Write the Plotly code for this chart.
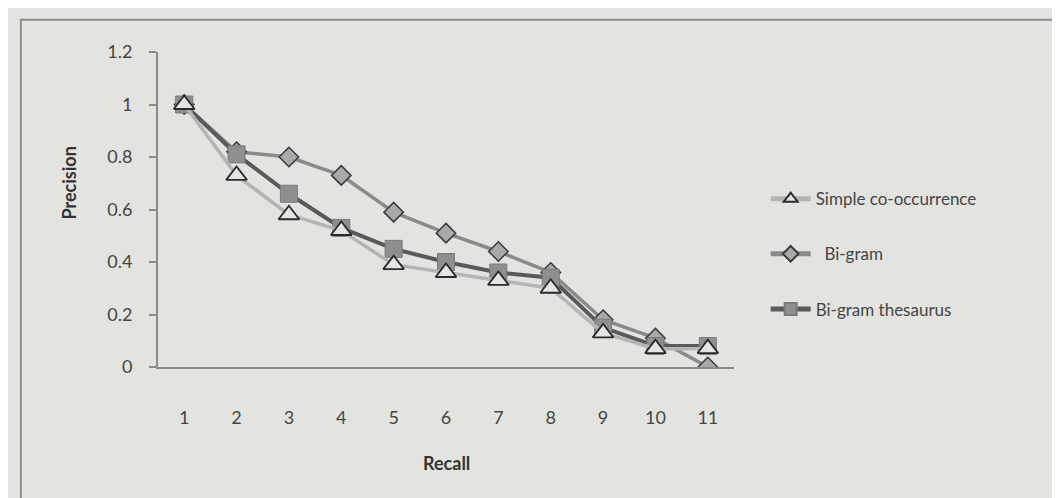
import plotly.graph_objects as go

recall = [1, 2, 3, 4, 5, 6, 7, 8, 9, 10, 11]
simple_cooc = [1.0, 0.73, 0.58, 0.52, 0.39, 0.36, 0.33, 0.30, 0.13, 0.07, 0.07]
bigram = [1.0, 0.82, 0.80, 0.73, 0.59, 0.51, 0.44, 0.36, 0.18, 0.11, 0.0]
bigram_thes = [1.0, 0.81, 0.66, 0.53, 0.45, 0.40, 0.36, 0.34, 0.15, 0.08, 0.08]
y_ticks = [0, 0.2, 0.4, 0.6, 0.8, 1, 1.2]
y_labels = ["0", "0.2", "0.4", "0.6", "0.8", "1", "1.2"]

FONT = "Lato, 'Open Sans', sans-serif"

fig = go.Figure()

fig.add_trace(go.Scatter(
    x=recall, y=bigram, name="  Bi-gram", mode="lines+markers",
    line=dict(color="#8a8a8a", width=3.5),
    marker=dict(symbol="diamond", size=15, color="#a9a9a9",
                line=dict(color="#3a3a3a", width=1.5)),
    legendrank=2, legendgroup="b"))
fig.add_trace(go.Scatter(
    x=recall, y=bigram_thes, name="Bi-gram thesaurus", mode="lines+markers",
    line=dict(color="#5a5a5a", width=4),
    marker=dict(symbol="square", size=17, color="#8f8f8f",
                line=dict(color="#7a7a7a", width=1)),
    legendrank=3, legendgroup="c"))
fig.add_trace(go.Scatter(
    x=recall, y=simple_cooc, name="Simple co-occurrence", mode="lines+markers",
    line=dict(color="#b4b4b4", width=3.5),
    marker=dict(symbol="triangle-up", size=18, color="#e4e4e4",
                line=dict(color="#2a2a2a", width=1.8)),
    legendrank=1, legendgroup="a"))

fig.update_layout(
    width=1060, height=498,
    margin=dict(l=150, r=334, t=44, b=139),
    paper_bgcolor="#e3e3e0", plot_bgcolor="rgba(0,0,0,0)",
    font=dict(family=FONT, color="#454545", size=18),
    showlegend=True,
    legend=dict(x=1.055, y=0.59, xanchor="left", yanchor="top",
                bgcolor="rgba(0,0,0,0)", font=dict(size=17, color="#454545"),
                tracegroupgap=30, itemwidth=40, itemsizing="constant"),
    xaxis=dict(type="linear", range=[0.5, 11.5], tickmode="array",
               tickvals=recall, ticktext=[str(v) for v in recall],
               showgrid=False, zeroline=False, showline=True,
               linecolor="#8a8a8a", linewidth=2, ticks="",
               ticklabelstandoff=33, tickfont=dict(size=18, color="#454545")),
    yaxis=dict(range=[0, 1.2], tickmode="array", tickvals=y_ticks,
               ticktext=y_labels, showgrid=False, zeroline=False,
               showline=True, linecolor="#8a8a8a", linewidth=2,
               ticks="outside", ticklen=7, tickcolor="#8a8a8a", tickwidth=2,
               ticklabelstandoff=13, tickfont=dict(size=18, color="#454545")),
    shapes=[dict(type="rect", xref="paper", yref="paper",
                 x0=-0.238, x1=2.0, y0=-0.7, y1=1.102,
                 line=dict(color="#8f8f8f", width=2))],
    annotations=[
        dict(text="<b>Recall</b>", xref="paper", yref="paper", x=0.5, y=-0.305,
             xanchor="center", yanchor="middle",
             showarrow=False, font=dict(size=18, color="#333333")),
        dict(text="<b>Precision</b>", xref="paper", yref="paper", x=-0.155, y=0.585,
             xanchor="center", yanchor="middle",
             textangle=-90, showarrow=False, font=dict(size=18, color="#333333")),
    ],
)

fig.write_html("out.html")
